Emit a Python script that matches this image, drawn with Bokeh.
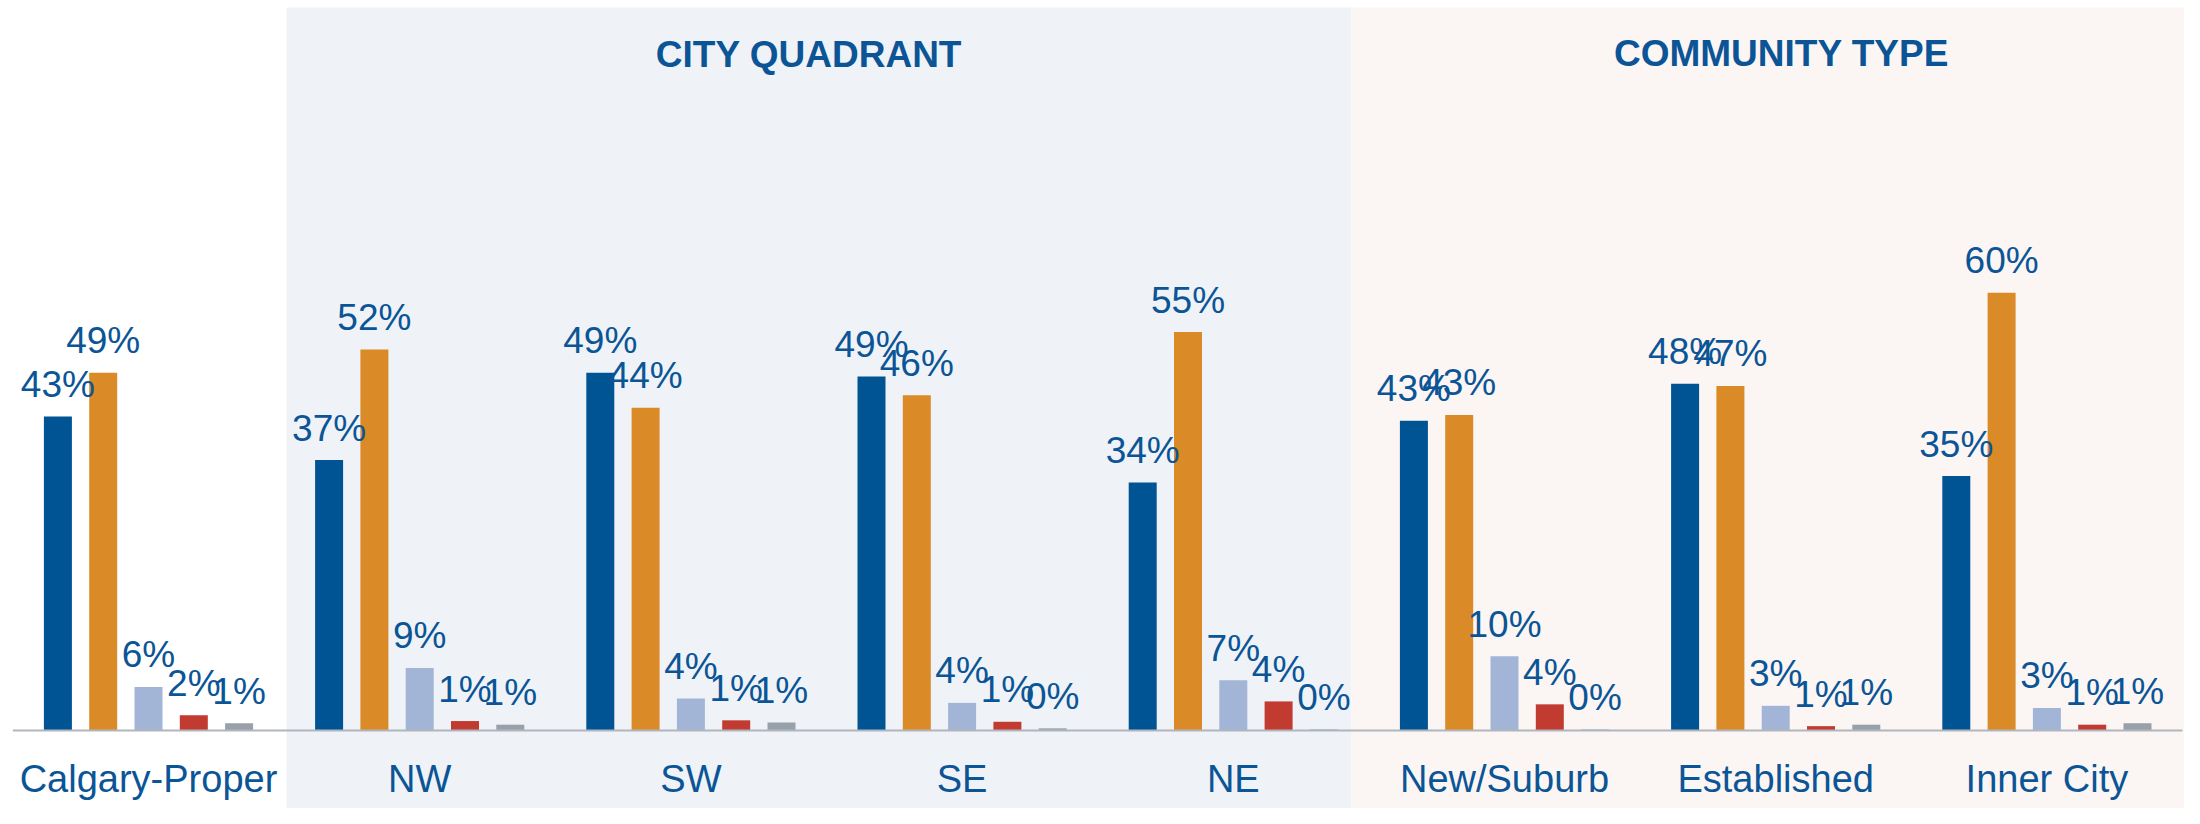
import numpy as np
from bokeh.plotting import figure
from bokeh.models import Range1d
from bokeh.core.properties import value
from bokeh.embed import file_html
from bokeh.resources import INLINE

# ---------------- data ----------------
categories = ["Calgary-Proper", "NW", "SW", "SE", "NE", "New/Suburb", "Established", "Inner City"]
series_1 = [43.2, 37.2, 49.2, 48.7, 34.1, 42.6, 47.7, 35.0]
series_2 = [49.2, 52.4, 44.4, 46.1, 54.8, 43.4, 47.4, 60.2]
series_3 = [6.0, 8.6, 4.4, 3.8, 6.9, 10.2, 3.4, 3.1]
series_4 = [2.1, 1.3, 1.4, 1.2, 4.0, 3.6, 0.6, 0.8]
series_5 = [1.0, 0.8, 1.1, 0.3, 0.15, 0.14, 0.8, 1.0]
section_titles = ["CITY QUADRANT", "COMMUNITY TYPE"]

series = [series_1, series_2, series_3, series_4, series_5]
colors = ["#005494", "#DB8A28", "#A3B5D6", "#C13B31", "#98A1AA"]
TEXT = "#0B5596"
FONT = value("Liberation Sans")

# ---------------- geometry helpers (styling only) ----------------
W, H = 2184, 808
GROUP_PX = 271.2
X0_PX = 148.0
BASE_PX = 730.0
PX_PER_PCT = 7.27
TXT_SHIFT = 13  # compensation for text baseline rendering


def x_of(px):
    return (px - X0_PX) / GROUP_PX


def y_of(py):
    return (BASE_PX - py) / PX_PER_PCT


p = figure(width=W, height=H,
           x_range=Range1d(x_of(0), x_of(W)),
           y_range=Range1d(y_of(H), y_of(0)),
           output_backend="svg", toolbar_location=None,
           x_axis_location=None, y_axis_location=None,
           min_border=0, outline_line_color=None,
           background_fill_color="white", border_fill_color="white")
p.grid.visible = False

# background section bands
p.quad(left=[x_of(286)], right=[x_of(1351)], bottom=[y_of(900)], top=[y_of(7)],
       fill_color="#EFF3F7", line_color=None)
p.quad(left=[x_of(1351)], right=[x_of(2300)], bottom=[y_of(900)], top=[y_of(7)],
       fill_color="#FBF6F4", line_color=None)

idx = np.arange(len(categories))
step = 45.3 / GROUP_PX
bar_w = 28.0 / GROUP_PX

for j, (vals, col) in enumerate(zip(series, colors)):
    xs = idx + (j - 2) * step
    p.vbar(x=xs, width=bar_w, top=vals, bottom=0, fill_color=col, line_color=None)

# baseline
p.segment(x0=[-0.5], y0=[0], x1=[len(categories) - 0.5], y1=[0],
          line_color="#B1B6BD", line_width=2)

# value labels
for j, vals in enumerate(series):
    xs = idx + (j - 2) * step
    labels = [f"{int(round(v))}%" for v in vals]
    p.text(x=xs, y=vals, text=labels, text_align="center", text_baseline="alphabetic",
           y_offset=-19 - TXT_SHIFT, text_font=FONT, text_font_size="37px", text_color=TEXT)

# category labels
p.text(x=idx, y=[y_of(791 - TXT_SHIFT)] * len(categories), text=categories,
       text_align="center", text_baseline="alphabetic",
       text_font=FONT, text_font_size="38px", text_color=TEXT)

# section titles
p.text(x=[x_of(808.5), x_of(1781)], y=[y_of(67 - TXT_SHIFT), y_of(66 - TXT_SHIFT)],
       text=section_titles, text_align="center", text_baseline="alphabetic",
       text_font=FONT, text_font_size="37px", text_font_style="bold", text_color=TEXT)

open("out.html", "w").write(file_html(p, INLINE))
